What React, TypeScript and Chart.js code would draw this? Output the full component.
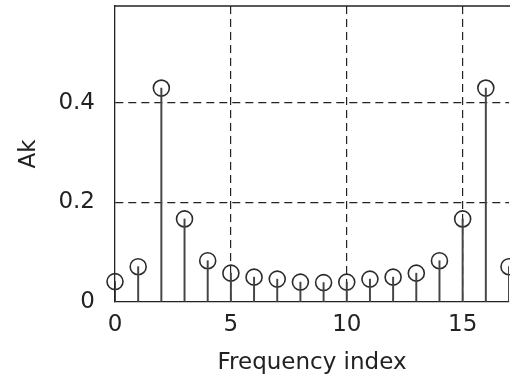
import { useEffect, useRef } from 'react';
import { Chart, registerables } from 'chart.js';

Chart.register(...registerables);

const FREQ_INDEX = [0, 1, 2, 3, 4, 5, 6, 7, 8, 9, 10, 11, 12, 13, 14, 15, 16, 17];
const AK = [0.041, 0.071, 0.43, 0.167, 0.083, 0.058, 0.05, 0.046, 0.04, 0.039, 0.04, 0.046, 0.05, 0.058, 0.083, 0.167, 0.43, 0.071];
const X_TICKS = [0, 5, 10, 15];
const Y_TICKS = [0, 0.2, 0.4];
const X_LABEL = 'Frequency index';
const Y_LABEL = 'Ak';

export default function App() {
  const ref = useRef<HTMLCanvasElement>(null);

  useEffect(() => {
    document.body.style.margin = '0';
    const font = { family: '"DejaVu Sans", sans-serif', size: 23 };
    const ink = '#222';
    const points = FREQ_INDEX.map((x, i) => ({ x, y: AK[i] }));

    const topBorder = {
      id: 'topBorder',
      afterDraw(chart: any) {
        const { ctx, chartArea } = chart;
        ctx.save();
        ctx.strokeStyle = ink;
        ctx.lineWidth = 1.3;
        ctx.beginPath();
        ctx.moveTo(chartArea.left, chartArea.top);
        ctx.lineTo(chart.width, chartArea.top);
        ctx.stroke();
        ctx.restore();
      },
    };

    const chart = new Chart(ref.current as HTMLCanvasElement, {
      type: 'scatter',
      data: {
        datasets: [
          {
            type: 'bar',
            data: points,
            backgroundColor: '#444',
            barThickness: 1.3,
            grouped: false,
          } as any,
          {
            type: 'scatter',
            data: points,
            pointRadius: 8,
            pointBorderWidth: 1.6,
            borderColor: '#2b2b2b',
            backgroundColor: 'rgba(0,0,0,0)',
            clip: false,
          } as any,
        ],
      },
      options: {
        animation: false,
        responsive: false,
        layout: { autoPadding: false, padding: { top: 6, right: 1, left: 0, bottom: 0 } },
        plugins: { legend: { display: false }, tooltip: { enabled: false } },
        scales: {
          x: {
            type: 'linear',
            min: 0,
            max: 17,
            offset: false,
            afterBuildTicks: (s: any) => {
              s.ticks = X_TICKS.map((v) => ({ value: v }));
            },
            afterFit: (s: any) => {
              s.height = 81;
              s.paddingLeft = 0;
              s.paddingRight = 0;
            },
            ticks: { font, color: ink, padding: 9, maxRotation: 0, autoSkip: false, callback: (v: any) => String(v) },
            grid: {
              color: (c: any) => (c.tick && c.tick.value === 0 ? 'rgba(0,0,0,0)' : ink),
              lineWidth: 1.2,
              drawTicks: false,
              offset: false,
            },
            border: { display: true, color: ink, width: 1.3, dash: [8, 5] },
            title: { display: true, text: X_LABEL, font, color: ink, padding: { top: 0, bottom: 6 } },
          },
          y: {
            type: 'linear',
            min: 0,
            max: 0.595,
            afterBuildTicks: (s: any) => {
              s.ticks = Y_TICKS.map((v) => ({ value: v }));
            },
            afterFit: (s: any) => {
              s.width = 115;
              s.paddingTop = 0;
              s.paddingBottom = 0;
            },
            ticks: { font, color: ink, padding: 20, callback: (v: any) => String(v) },
            grid: {
              color: (c: any) => (c.tick && c.tick.value === 0 ? 'rgba(0,0,0,0)' : ink),
              lineWidth: 1.2,
              drawTicks: false,
            },
            border: { display: true, color: ink, width: 1.3, dash: [8, 5] },
            title: { display: true, text: Y_LABEL, font, color: ink, padding: { top: 15, bottom: 0 } },
          },
        },
      } as any,
      plugins: [topBorder],
    });
    return () => chart.destroy();
  }, []);

  return (
    <div style={{ position: 'absolute', left: 0, top: 0, width: 510, height: 383, overflow: 'hidden', background: '#fff' }}>
      <canvas ref={ref} width={510} height={383} style={{ width: 510, height: 383, display: 'block' }} />
    </div>
  );
}
